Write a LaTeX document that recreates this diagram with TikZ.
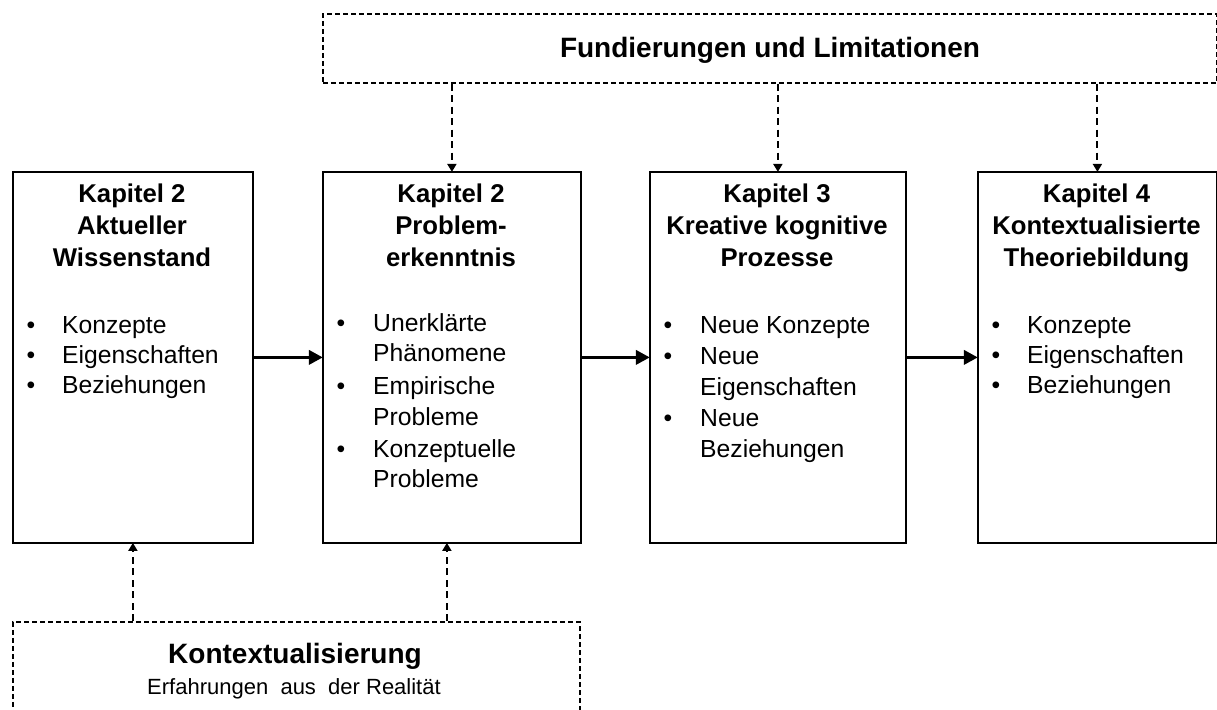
\documentclass[tikz,border=0pt]{standalone}
\usepackage{fontspec}
\setmainfont{Liberation Sans}
\usetikzlibrary{arrows.meta}

\begin{document}
\begin{tikzpicture}[x=1pt,y=-1pt,
  chapbox/.style={draw=black, line width=1.8pt, inner sep=0pt, anchor=north west},
  dashbox/.style={draw=black, line width=1.7pt, dash pattern=on 5pt off 3pt, inner sep=0pt, anchor=north west},
  flow/.style={line width=3.6pt, -{Triangle[length=14pt,width=14pt]}, shorten >=-0.9pt},
  dflow/.style={line width=1.9pt, dash pattern=on 7pt off 4.5pt, -{Triangle[length=8pt,width=9pt]}, shorten >=-0.9pt},
  ttl/.style={font=\fontsize{25.7}{32}\selectfont\bfseries, inner sep=0pt, anchor=base},
  itm/.style={font=\fontsize{24.7}{31}\selectfont, inner sep=0pt, anchor=base west},
  bul/.style={font=\fontsize{24.7}{31}\selectfont, inner sep=0pt, anchor=base},
]
\useasboundingbox (0,0) rectangle (1217,709);

% chapter boxes
\node[chapbox, minimum width=240pt, minimum height=371pt] (k1) at (12,171) {};
\node[chapbox, minimum width=258pt, minimum height=371pt] (k2) at (322,171) {};
\node[chapbox, minimum width=256pt, minimum height=371pt] (k3) at (649,171) {};
\node[chapbox, minimum width=239pt, minimum height=371pt] (k4) at (977,171) {};

% dashed frames
\node[dashbox, minimum width=894pt, minimum height=69pt] (fund) at (322,13) {};
\node[dashbox, minimum width=567pt, minimum height=130pt] (ctx) at (12,621) {};

\node[font=\fontsize{28}{34}\selectfont\bfseries, inner sep=0pt, anchor=base] (fundt) at (770,58) {Fundierungen und Limitationen};
\node[font=\fontsize{28}{34}\selectfont\bfseries, inner sep=0pt, anchor=base] (ctxt) at (295,663) {Kontextualisierung};
\node[font=\fontsize{22}{28}\selectfont, inner sep=0pt, anchor=base] (ctxs) at (294,694) {Erfahrungen \ aus \ der Realität};

% box 1
\node[ttl] (k1a) at (132,202) {Kapitel 2};
\node[ttl] (k1b) at (132,234) {Aktueller};
\node[ttl] (k1c) at (132,266) {Wissenstand};
\node[bul] (k1p1) at (31,333) {•};
\node[bul] (k1p2) at (31,363) {•};
\node[bul] (k1p3) at (31,393) {•};
\node[itm] (k1i1) at (62,333) {Konzepte};
\node[itm] (k1i2) at (62,363) {Eigenschaften};
\node[itm] (k1i3) at (62,393) {Beziehungen};

% box 2
\node[ttl] (k2a) at (451,202) {Kapitel 2};
\node[ttl] (k2b) at (451,234) {Problem-};
\node[ttl] (k2c) at (451,266) {erkenntnis};
\node[bul] (k2p1) at (341,331) {•};
\node[bul] (k2p2) at (341,394) {•};
\node[bul] (k2p3) at (341,457) {•};
\node[itm] (k2i1) at (373,331) {Unerklärte};
\node[itm] (k2i2) at (373,361) {Phänomene};
\node[itm] (k2i3) at (373,394) {Empirische};
\node[itm] (k2i4) at (373,425) {Probleme};
\node[itm] (k2i5) at (373,457) {Konzeptuelle};
\node[itm] (k2i6) at (373,487) {Probleme};

% box 3
\node[ttl] (k3a) at (777,202) {Kapitel 3};
\node[ttl] (k3b) at (777,234) {Kreative kognitive};
\node[ttl] (k3c) at (777,266) {Prozesse};
\node[bul] (k3p1) at (668,333) {•};
\node[bul] (k3p2) at (668,364) {•};
\node[bul] (k3p3) at (668,426) {•};
\node[itm] (k3i1) at (700,333) {Neue Konzepte};
\node[itm] (k3i2) at (700,364) {Neue};
\node[itm] (k3i3) at (700,395) {Eigenschaften};
\node[itm] (k3i4) at (700,426) {Neue};
\node[itm] (k3i5) at (700,457) {Beziehungen};

% box 4
\node[ttl] (k4a) at (1096.5,202) {Kapitel 4};
\node[ttl] (k4b) at (1096.5,234) {Kontextualisierte};
\node[ttl] (k4c) at (1096.5,266) {Theoriebildung};
\node[bul] (k4p1) at (996,333) {•};
\node[bul] (k4p2) at (996,363) {•};
\node[bul] (k4p3) at (996,393) {•};
\node[itm] (k4i1) at (1027,333) {Konzepte};
\node[itm] (k4i2) at (1027,363) {Eigenschaften};
\node[itm] (k4i3) at (1027,393) {Beziehungen};

% main flow
\draw[flow] (k1.east) -- (k2.west);
\draw[flow] (k2.east) -- (k3.west);
\draw[flow] (k3.east) -- (k4.west);

% foundations feed into chapters 2-4
\draw[dflow] (k2.north |- fund.south) -- (k2.north);
\draw[dflow] (k3.north |- fund.south) -- (k3.north);
\draw[dflow] (k4.north |- fund.south) -- (k4.north);

% context feeds into the first two boxes
\draw[dflow] (k1.south |- ctx.north) -- (k1.south);
\draw[dflow] ([xshift=-5pt]k2.south |- ctx.north) -- ([xshift=-5pt]k2.south);
\end{tikzpicture}
\end{document}
